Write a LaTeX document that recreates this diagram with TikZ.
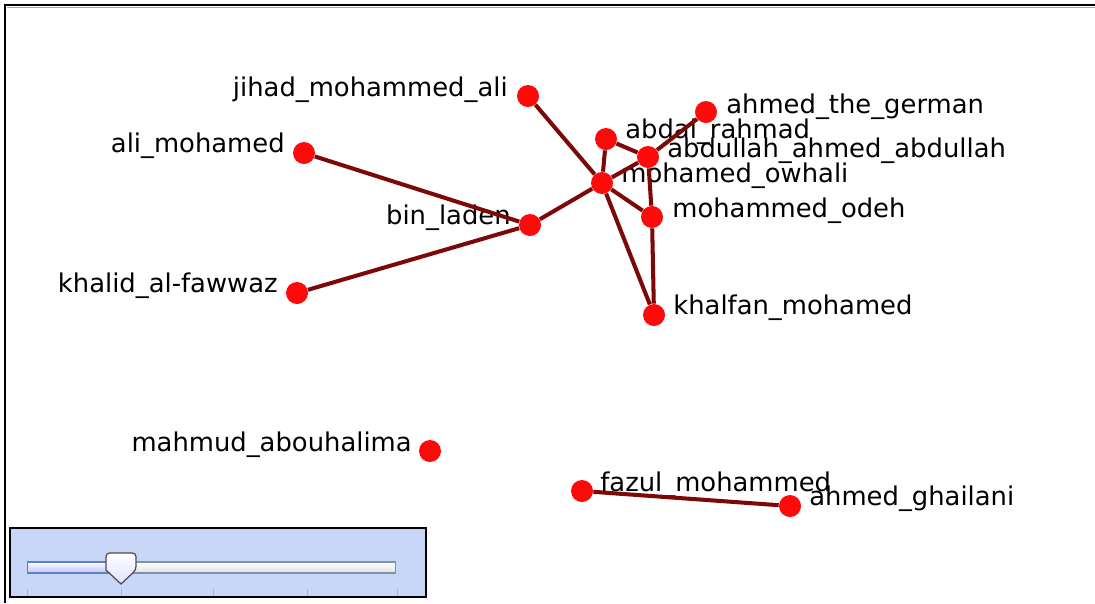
\documentclass[tikz,border=0pt]{standalone}
\usepackage{fontspec}
\setmainfont{DejaVu Sans}
\usepackage{tikz}
\usepackage{xcolor}
\usetikzlibrary{positioning, calc}
\definecolor{nodered}{RGB}{255,10,10}
\definecolor{tiered}{RGB}{125,8,8}
\definecolor{panelblue}{RGB}{200,214,247}
\definecolor{trackedge}{RGB}{128,146,166}
\definecolor{trackblue}{RGB}{96,128,196}

\begin{document}
\begin{tikzpicture}[x=0.02cm, y=-0.02cm,
    person/.style={circle, fill=nodered, draw=none,
                   minimum size=0.44cm, inner sep=0pt},
    tie/.style={draw=tiered, line width=2.3pt},
    lbl/.style={font=\fontsize{14.7}{17}\selectfont,
                inner sep=0pt, text=black},
    frameline/.style={line width=1.6pt, black}
]
    \useasboundingbox[fill=white] (0,0) rectangle (1095,603);
    \draw[frameline] (5,603) -- (5,5) -- (1095,5);
    \draw[black!35, line width=0.6pt] (7,7.5) -- (1095,7.5);

    \node[lbl, anchor=base east] (jihad-t)   at (508,96)  {jihad\_mohammed\_ali};
    \node[lbl, anchor=base east] (ali-t)     at (285,152) {ali\_mohamed};
    \node[lbl, anchor=base east] (laden-t)   at (511,224) {bin\_laden};
    \node[lbl, anchor=base east] (khalid-t)  at (278,292) {khalid\_al-fawwaz};
    \node[lbl, anchor=base east] (mahmud-t)  at (412,451) {mahmud\_abouhalima};
    \node[lbl, anchor=base west] (german-t)  at (726,113) {ahmed\_the\_german};
    \node[lbl, anchor=base west] (abdal-t)   at (625,138) {abdal\_rahmad};
    \node[lbl, anchor=base west] (abdullah-t) at (667,157) {abdullah\_ahmed\_abdullah};
    \node[lbl, anchor=base west] (owhali-t)  at (621,182) {mohamed\_owhali};
    \node[lbl, anchor=base west] (odeh-t)    at (672,217) {mohammed\_odeh};
    \node[lbl, anchor=base west] (khalfan-t) at (673,314) {khalfan\_mohamed};
    \node[lbl, anchor=base west] (fazul-t)   at (600,491) {fazul\_mohammed};
    \node[lbl, anchor=base west] (ghailani-t) at (809,505) {ahmed\_ghailani};

    \node[person] (jihad)    at (528,96)  {};
    \node[person] (ali)      at (304,153) {};
    \node[person] (laden)    at (530,225) {};
    \node[person] (khalid)   at (297,293) {};
    \node[person] (mahmud)   at (430,451) {};
    \node[person] (german)   at (706,112) {};
    \node[person] (abdal)    at (606,139) {};
    \node[person] (abdullah) at (648,157) {};
    \node[person] (owhali)   at (602,183) {};
    \node[person] (odeh)     at (652,217) {};
    \node[person] (khalfan)  at (654,315) {};
    \node[person] (fazul)    at (582,491) {};
    \node[person] (ghailani) at (790,506) {};

    \draw[tie] (jihad) -- (owhali);
    \draw[tie] (ali) -- (laden);
    \draw[tie] (khalid) -- (laden);
    \draw[tie] (laden) -- (owhali);
    \draw[tie] (owhali) -- (abdal);
    \draw[tie] (owhali) -- (abdullah);
    \draw[tie] (abdal) -- (abdullah);
    \draw[tie] (abdullah) -- (german);
    \draw[tie] (abdullah) -- (odeh);
    \draw[tie] (owhali) -- (odeh);
    \draw[tie] (owhali) -- (khalfan);
    \draw[tie] (odeh) -- (khalfan);
    \draw[tie] (fazul) -- (ghailani);

    \node[draw=black, line width=1.3pt, fill=panelblue, inner sep=0pt,
          minimum width=8.32cm, minimum height=1.38cm] (panel) at (218,562.5) {};
    \node[draw=trackedge, line width=0.6pt, top color=white,
          bottom color=black!12, inner sep=0pt,
          minimum width=7.38cm, minimum height=0.22cm] (track) at (211.5,567.5) {};
    \node[draw=trackblue, line width=0.6pt, top color=white,
          bottom color=blue!25, inner sep=0pt, anchor=west,
          minimum width=1.88cm, minimum height=0.22cm] (fill) at (track.west) {};
    \foreach \tx in {27,121,213,307,397}
        \draw[black!30, line width=0.5pt] (\tx,589) -- (\tx,596);
    \draw[black!70, line width=0.7pt, top color=white, bottom color=blue!12,
          rounded corners=2pt]
        (106,570) -- (106,553) -- (136,553) -- (136,570)
        [sharp corners] -- (121,584) -- cycle;
\end{tikzpicture}
\end{document}
